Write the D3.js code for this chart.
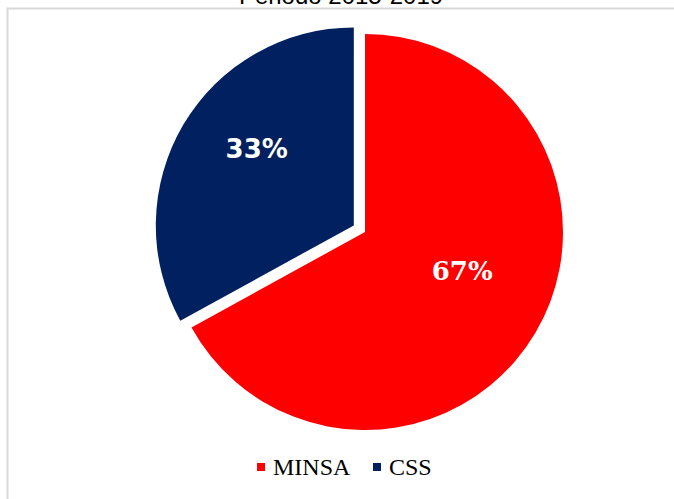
<!DOCTYPE html>
<html>
<head>
<meta charset="utf-8">
<script src="https://cdn.jsdelivr.net/npm/d3@7/dist/d3.min.js"></script>
<style>
  html, body { margin: 0; padding: 0; background: #fff; }
  svg { display: block; }
</style>
</head>
<body>
<svg id="chart" width="674" height="499"></svg>
<script>
const categories = ["MINSA", "CSS"];
const values = [67, 33];
const colors = ["#ff0000", "#002060"];
const labelFonts = ["'DejaVu Serif', serif", "'DejaVu Sans', sans-serif"];
const exploded = [false, true];
const title = "Periodo 2015-2019";

const W = 674, H = 499;
const svg = d3.select("#chart");

// chart frame
svg.append("path")
  .attr("d", `M7.5,${H} L7.5,8.5 L${W},8.5`)
  .attr("fill", "none").attr("stroke", "#d9d9d9").attr("stroke-width", 2);

// title (clipped at top, as in the reference)
svg.append("text")
  .attr("x", 341).attr("y", 4)
  .attr("text-anchor", "middle")
  .attr("font-family", "'Liberation Sans', Arial, sans-serif")
  .attr("font-size", 24)
  .attr("fill", "#000")
  .text(title);

const cx = 365, cy = 232, r = 198, explode = 13;
const labelRise = 19;

const pie = d3.pie().sort(null).startAngle(0).endAngle(2 * Math.PI);
const arcs = pie(values);
const arc = d3.arc().innerRadius(0).outerRadius(r);
const labelArc = d3.arc().innerRadius(r * 0.57).outerRadius(r * 0.57);

const g = svg.append("g").attr("transform", `translate(${cx},${cy})`);

const slices = g.selectAll("g.slice").data(arcs).enter().append("g")
  .attr("class", "slice")
  .attr("transform", (d, i) => {
    if (!exploded[i]) return null;
    const mid = (d.startAngle + d.endAngle) / 2;
    return `translate(${Math.sin(mid) * explode},${-Math.cos(mid) * explode})`;
  });

slices.append("path")
  .attr("d", arc)
  .attr("fill", (d, i) => colors[i]);

slices.append("text")
  .attr("transform", d => {
    const [x, y] = labelArc.centroid(d);
    return `translate(${x},${y - labelRise})`;
  })
  .attr("text-anchor", "middle")
  .attr("dy", "0.36em")
  .attr("font-family", (d, i) => labelFonts[i])
  .attr("font-weight", "bold")
  .attr("font-size", 26)
  .attr("fill", "#fff")
  .text(d => d.data + "%");

// legend
const legend = svg.append("g");
const legX = [257, 373];
categories.forEach((c, i) => {
  legend.append("rect")
    .attr("x", legX[i]).attr("y", 463)
    .attr("width", 8).attr("height", 8)
    .attr("fill", colors[i]);
  legend.append("text")
    .attr("x", legX[i] + 16).attr("y", 475)
    .attr("font-family", "'Liberation Serif', 'Times New Roman', serif")
    .attr("font-size", 24)
    .attr("fill", "#000")
    .text(c);
});
</script>
</body>
</html>
